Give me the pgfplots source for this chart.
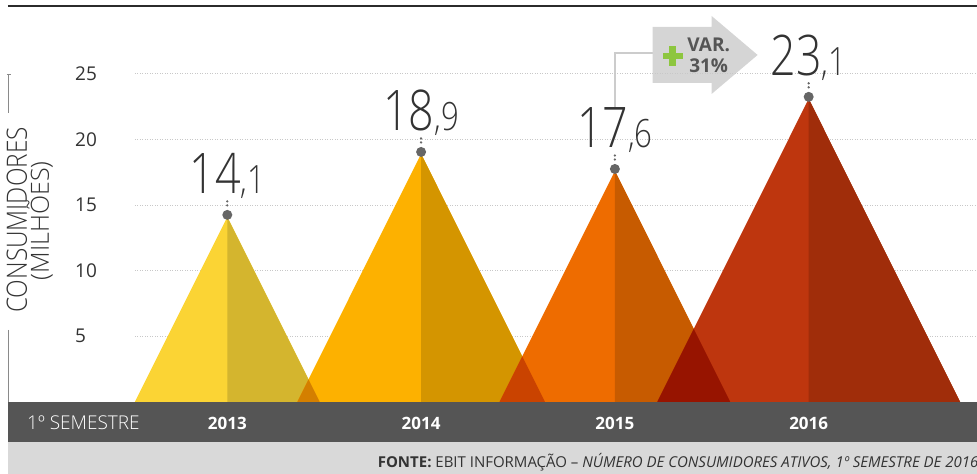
\documentclass[border=0pt]{standalone}
\usepackage{fontspec}
\setmainfont{Open Sans}
\newfontfamily\light{Open Sans Light}
\newfontfamily\lightcond{Open Sans Light}[FakeStretch=0.8]
\newfontfamily\lightlab{Open Sans Light}[FakeStretch=0.87]
\usepackage{pgfplots}
\pgfplotsset{compat=1.18}

\definecolor{yA}{HTML}{FBD434}
\definecolor{yB}{HTML}{D4B52E}
\definecolor{aA}{HTML}{FDB100}
\definecolor{aB}{HTML}{D49500}
\definecolor{oA}{HTML}{EE6C00}
\definecolor{oB}{HTML}{C75B00}
\definecolor{rA}{HTML}{BE360E}
\definecolor{rB}{HTML}{A02D0A}
\definecolor{ovA}{HTML}{D47F00}
\definecolor{ovB}{HTML}{CA4300}
\definecolor{ovC}{HTML}{971400}
\definecolor{band}{HTML}{555555}
\definecolor{srcband}{HTML}{D9D9D9}
\definecolor{dotg}{HTML}{666666}
\definecolor{arrowg}{HTML}{D5D5D5}
\definecolor{conng}{HTML}{CCCCCC}
\definecolor{plusg}{HTML}{8DC63F}
\definecolor{txt}{HTML}{333333}
\definecolor{gridg}{HTML}{C8C8C8}
\definecolor{topline}{HTML}{2B2B2B}
\definecolor{varg}{HTML}{555555}
\definecolor{lineg}{HTML}{8A8A8A}

\pgfdeclareplotmark{peak}{%
  \pgfpathcircle{\pgfpoint{0pt}{2pt}}{5pt}\pgfusepathqfill
  \pgfpathcircle{\pgfpoint{0pt}{11.5pt}}{1.3pt}\pgfusepathqfill
  \pgfpathcircle{\pgfpoint{0pt}{15.5pt}}{1.3pt}\pgfusepathqfill}

\def\splitnum#1.#2\relax{#1{\fontsize{39}{39}\selectfont,#2}}
\newcommand\biglabel{\edef\tmpmeta{\pgfplotspointmeta}\expandafter\splitnum\tmpmeta\relax}

\begin{document}
\begin{tikzpicture}
% background decorations: pixel coordinates, origin of the axis at pixel (135,402)
\begin{scope}[x=1pt, y=-1pt, shift={(-135pt,402pt)}]
  \useasboundingbox (0,0) rectangle (977,474);
  \draw[topline, line width=2pt] (8,6) -- (977,6);
  \fill[band] (8,402) rectangle (977,442);
  \fill[srcband] (8,442) rectangle (977,474);
  \node[anchor=base west, inner sep=0pt, text=white, font=\light\fontsize{19}{19}\selectfont] at (27,430) {1º SEMESTRE};
  \node[anchor=base east, inner sep=0pt, text=txt, font=\fontsize{15}{15}\selectfont] at (979,468)
    {\textbf{FONTE:} EBIT INFORMAÇÃO – \textit{NÚMERO DE CONSUMIDORES ATIVOS, 1º SEMESTRE DE 2016}};
  % y label
  \draw[lineg, line width=1pt] (9,75) -- (9,113);
  \draw[lineg, line width=1pt] (7,75) -- (11,75);
  \draw[lineg, line width=1pt] (9,330) -- (9,402);
  \node[rotate=90, anchor=base, inner sep=0pt, text=txt, font=\lightlab\fontsize{28}{28}\selectfont] at (27,220) {CONSUMIDORES};
  \node[rotate=90, anchor=base, inner sep=0pt, text=txt, font=\light\fontsize{25}{25}\selectfont] at (49,221) {(MILHÕES)};
  % variation annotation
  \draw[conng, line width=2pt] (615,107) -- (615,53) -- (653,53);
  \fill[arrowg] (653,27) -- (712,27) -- (712,16) -- (758,55) -- (712,94) -- (712,83) -- (653,83) -- cycle;
  \fill[plusg] (663,53) rectangle (683,59.5);
  \fill[plusg] (669.7,46) rectangle (676.3,66);
  \node[anchor=base, inner sep=0pt, text=varg, font=\bfseries\fontsize{19}{19}\selectfont] at (709,52) {VAR.};
  \node[anchor=base, inner sep=0pt, text=varg, font=\bfseries\fontsize{19}{19}\selectfont] at (709,73) {31\%};
\end{scope}

\begin{axis}[
  at={(0,0)}, anchor=south west, scale only axis,
  width=842pt, height=396pt,
  xmin=-0.4767, xmax=3.866, ymin=0, ymax=30.18,
  axis line style={draw=none}, major tick length=0pt,
  xtick={0,1,2,3}, xticklabels={2013,2014,2015,2016},
  xticklabel style={anchor=base, yshift=-28pt, inner sep=0pt, text=white, font=\bfseries\fontsize{17}{17}\selectfont},
  ytick={5,10,15,20,25},
  yticklabel style={anchor=west, xshift=-60pt, inner sep=0pt, text=txt, font=\fontsize{19}{19}\selectfont},
  /pgf/number format/assume math mode=true,
  ymajorgrids, grid style={gridg, line width=1pt, dash pattern=on 1pt off 1.5pt},
]
% each triangle: whole shape in the light colour, right half in the dark colour
\addplot[fill=yA, draw=none] coordinates {(-0.4767,0) (0,14.1) (0.4767,0)};
\addplot[fill=yB, draw=none] coordinates {(0,0) (0,14.1) (0.4767,0)};
\addplot[fill=aA, draw=none] coordinates {(0.3610,0) (1,18.9) (1.6390,0)};
\addplot[fill=aB, draw=none] coordinates {(1,0) (1,18.9) (1.6390,0)};
\addplot[fill=ovA, draw=none] coordinates {(0.3610,0) (0.41885,1.711) (0.4767,0)};
\addplot[fill=oA, draw=none] coordinates {(1.4049,0) (2,17.6) (2.5951,0)};
\addplot[fill=oB, draw=none] coordinates {(2,0) (2,17.6) (2.5951,0)};
\addplot[fill=ovB, draw=none] coordinates {(1.4049,0) (1.52195,3.462) (1.6390,0)};
\addplot[fill=rA, draw=none] coordinates {(2.2190,0) (3,23.1) (3.7810,0)};
\addplot[fill=rB, draw=none] coordinates {(3,0) (3,23.1) (3.7810,0)};
\addplot[fill=ovC, draw=none] coordinates {(2.2190,0) (2.40705,5.562) (2.5951,0)};
\addplot[only marks, mark=peak, mark options={fill=dotg, draw=none},
  point meta=explicit symbolic,
  nodes near coords={\biglabel},
  every node near coord/.append style={anchor=base, yshift=23pt, inner sep=0pt, text=txt, font=\lightcond\fontsize{56}{56}\selectfont}]
  coordinates {(0,14.1) [14.1] (1,18.9) [18.9] (2,17.6) [17.6] (3,23.1) [23.1]};
\end{axis}
\end{tikzpicture}
\end{document}
